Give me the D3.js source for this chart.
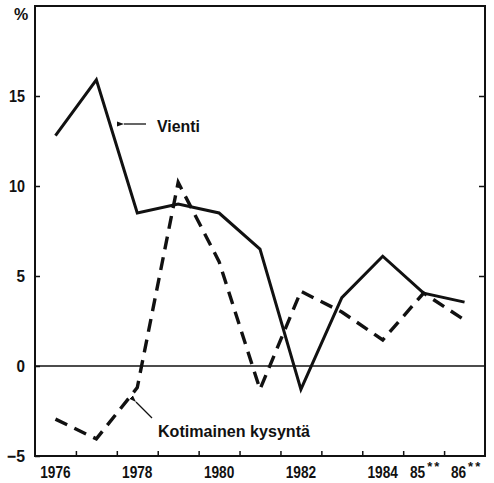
<!DOCTYPE html>
<html>
<head>
<meta charset="utf-8">
<script src="https://cdn.jsdelivr.net/npm/d3@7"></script>
<style>
  body { margin: 0; background: #fff; }
  text { font-family: "Liberation Sans", Arial, sans-serif; font-weight: bold; fill: #111; }
</style>
</head>
<body>
<svg></svg>
<script>
let years = [1976, 1977, 1978, 1979, 1980, 1981, 1982, 1983, 1984, 1985, 1986]
let vienti = [12.8, 15.9, 8.5, 9.0, 8.5, 6.5, -1.3, 3.8, 6.1, 4.05, 3.55]
let kotimainen = [-2.95, -4.05, -1.2, 10.2, 5.8, -1.3, 4.15, 3.0, 1.45, 4.05, 2.55]
let yTicks = [-5, 0, 5, 10, 15]
let xLabels = ["1976", "", "1978", "", "1980", "", "1982", "", "1984", "85", "86"]
let xStars = ["", "", "", "", "", "", "", "", "", "**", "**"]

let width = 494
let height = 483
let margin = { left: 35, right: 9, top: 5, bottom: 27 }

let svg = d3.select("svg")
    .attr("width", width)
    .attr("height", height)

let xScale = d3.scaleLinear()
    .domain([1975.5, 1986.5])
    .range([margin.left, width - margin.right])

let yScale = d3.scaleLinear()
    .domain([-5, 20])
    .range([height - margin.bottom, margin.top + 1])

// frame
svg.append("rect")
    .attr("x", xScale(1975.5))
    .attr("y", yScale(20))
    .attr("width", xScale(1986.5) - xScale(1975.5))
    .attr("height", yScale(-5) - yScale(20))
    .attr("fill", "none")
    .attr("stroke", "#111")
    .attr("stroke-width", 2)

// zero line
svg.append("line")
    .attr("x1", xScale(1975.5))
    .attr("x2", xScale(1986.5))
    .attr("y1", yScale(0))
    .attr("y2", yScale(0))
    .attr("stroke", "#111")
    .attr("stroke-width", 1.3)

// left axis, ticks inward
let yAxis = d3.axisLeft(yScale)
    .tickValues(yTicks)
    .tickSize(-5)
    .tickPadding(10)
    .tickFormat((d) => d < 0 ? "\u2212" + Math.abs(d) : d)

let gy = svg.append("g")
    .attr("transform", "translate(" + margin.left + ",0)")
    .call(yAxis)
gy.select(".domain").remove()
gy.selectAll("line").attr("stroke", "#111").attr("stroke-width", 1.5)
gy.selectAll("text").style("font-size", "16.5px").attr("fill", "#111")
    .attr("textLength", (d) => d < 0 ? 18 : (Math.abs(d) >= 10 ? 16 : 8.5))
    .attr("lengthAdjust", "spacingAndGlyphs")

// right axis ticks
let yRight = d3.axisRight(yScale)
    .tickValues([5, 10, 15])
    .tickSize(-6)
    .tickFormat("")
let gr = svg.append("g")
    .attr("transform", "translate(" + (width - margin.right) + ",0)")
    .call(yRight)
gr.select(".domain").remove()
gr.selectAll("line").attr("stroke", "#111").attr("stroke-width", 1.5)

// bottom ticks at year boundaries
let xAxis = d3.axisBottom(xScale)
    .tickValues(d3.range(1976.5, 1986, 1))
    .tickSize(-5)
    .tickFormat("")
let gx = svg.append("g")
    .attr("transform", "translate(0," + yScale(-5) + ")")
    .call(xAxis)
gx.select(".domain").remove()
gx.selectAll("line").attr("stroke", "#111").attr("stroke-width", 1.5)

// year labels at year centres
let yl = svg.append("g")
    .selectAll("text")
    .data(years)
    .enter()
    .append("text")
    .attr("x", (d, i) => xScale(d) + (xStars[i] ? 2 : 0))
    .attr("y", height - 5)
    .attr("text-anchor", "middle")
    .style("font-size", "16.5px")
yl.append("tspan")
    .text((d, i) => xLabels[i])
    .attr("textLength", (d, i) => xLabels[i].length * 7.6)
    .attr("lengthAdjust", "spacingAndGlyphs")
yl.append("tspan")
    .attr("dy", -7)
    .attr("dx", 2)
    .style("font-size", "13px")
    .attr("letter-spacing", "2px")
    .text((d, i) => xStars[i])

svg.append("text")
    .attr("x", 14)
    .attr("y", 20)
    .style("font-size", "16px")
    .text("%")

let line = d3.line()
    .x((d, i) => xScale(years[i]))
    .y((d) => yScale(d))

svg.append("path")
    .datum(vienti)
    .attr("d", line)
    .attr("fill", "none")
    .attr("stroke", "#111")
    .attr("stroke-width", 3)
    .attr("stroke-linejoin", "miter")

svg.append("path")
    .datum(kotimainen)
    .attr("d", line)
    .attr("fill", "none")
    .attr("stroke", "#111")
    .attr("stroke-width", 3.4)
    .attr("stroke-dasharray", "13,8")

// arrow heads
svg.append("defs")
    .append("marker")
    .attr("id", "arr")
    .attr("viewBox", "0 0 10 10")
    .attr("refX", 0)
    .attr("refY", 5)
    .attr("markerWidth", 7)
    .attr("markerHeight", 7)
    .attr("markerUnits", "userSpaceOnUse")
    .attr("orient", "auto-start-reverse")
    .append("path")
    .attr("d", "M0,5 L10,1.5 L10,8.5 Z")
    .attr("fill", "#111")

svg.append("line")
    .attr("x1", 124).attr("y1", 124)
    .attr("x2", 146).attr("y2", 124)
    .attr("stroke", "#111")
    .attr("stroke-width", 1.3)
    .attr("marker-start", "url(#arr)")

svg.append("text")
    .attr("x", 157)
    .attr("y", 132)
    .style("font-size", "16.5px")
    .attr("textLength", 43)
    .attr("lengthAdjust", "spacingAndGlyphs")
    .text("Vienti")

svg.append("line")
    .attr("x1", 136).attr("y1", 402)
    .attr("x2", 152).attr("y2", 418)
    .attr("stroke", "#111")
    .attr("stroke-width", 1.3)
    .attr("marker-start", "url(#arr)")

svg.append("text")
    .attr("x", 158)
    .attr("y", 437)
    .style("font-size", "16.5px")
    .attr("textLength", 152)
    .attr("lengthAdjust", "spacingAndGlyphs")
    .text("Kotimainen kysyntä")
</script>
</body>
</html>
